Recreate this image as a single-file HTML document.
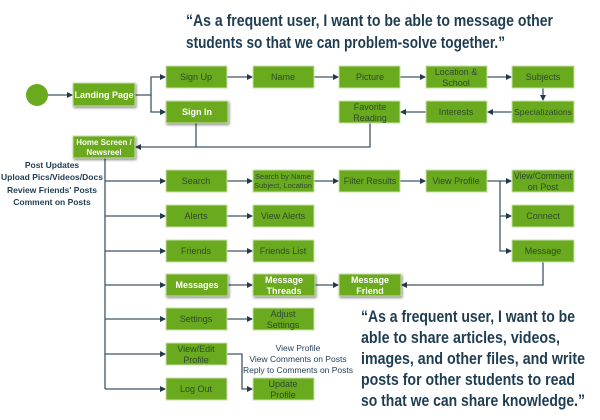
<!DOCTYPE html>
<html><head><meta charset="utf-8"><style>
html,body{margin:0;padding:0;background:#fff;width:600px;height:420px;overflow:hidden}
svg{display:block;font-family:"Liberation Sans",sans-serif}
.b{fill:#6aaa1e;stroke:#c8e0a8;stroke-width:1}
.t{fill:#2e4a2e;font-size:9px;text-anchor:middle}
.w{fill:#fff;font-size:9px;font-weight:bold;text-anchor:middle}
.l{stroke:#3e5666;stroke-width:1.3;fill:none}
.q{fill:#1e3d52;font-weight:bold;font-size:17px}
.s{fill:#1e3d52;font-size:8.5px;text-anchor:middle}
.sb{fill:#1e3d52;font-size:8.5px;font-weight:bold;text-anchor:middle}
</style></head><body>
<svg width="600" height="420" viewBox="0 0 600 420">
<defs>
<marker id="a" markerWidth="6" markerHeight="6" refX="5" refY="3" orient="auto" markerUnits="userSpaceOnUse"><path d="M0,0 L6,3 L0,6z" fill="#24394a"/></marker>
<filter id="sh" x="-20%" y="-20%" width="140%" height="160%"><feDropShadow dx="1" dy="1.5" stdDeviation="1.2" flood-color="#000" flood-opacity="0.45"/></filter>
</defs>
<text class="q" x="186" y="26" textLength="367" lengthAdjust="spacingAndGlyphs">“As a frequent user, I want to be able to message other</text>
<text class="q" x="186" y="48" textLength="319" lengthAdjust="spacingAndGlyphs">students so that we can problem-solve together.”</text>

<g class="l">
<path d="M47,95 H72" marker-end="url(#a)"/>
<path d="M135,95 H151 V77 H165" marker-end="url(#a)"/>
<path d="M151,95 V112 H165" marker-end="url(#a)"/>
<path d="M227,77 H252" marker-end="url(#a)"/>
<path d="M314,77 H338" marker-end="url(#a)"/>
<path d="M400,77 H425" marker-end="url(#a)"/>
<path d="M487,77 H511" marker-end="url(#a)"/>
<path d="M543,88 V100" marker-end="url(#a)"/>
<path d="M512,112 H488" marker-end="url(#a)"/>
<path d="M426,112 H401" marker-end="url(#a)"/>
<path d="M196,123 V147"/>
<path d="M370,123 V147 H136" marker-end="url(#a)"/>
<path d="M105,158 V389"/>
<path d="M105,181 H165" marker-end="url(#a)"/>
<path d="M105,216 H165" marker-end="url(#a)"/>
<path d="M105,251 H165" marker-end="url(#a)"/>
<path d="M105,285 H165" marker-end="url(#a)"/>
<path d="M105,319 H165" marker-end="url(#a)"/>
<path d="M105,354 H165" marker-end="url(#a)"/>
<path d="M105,389 H165" marker-end="url(#a)"/>
<path d="M227,181 H252" marker-end="url(#a)"/>
<path d="M314,181 H338" marker-end="url(#a)"/>
<path d="M400,181 H425" marker-end="url(#a)"/>
<path d="M487,181 H511" marker-end="url(#a)"/>
<path d="M500,181 V216 H511" marker-end="url(#a)"/>
<path d="M500,216 V251 H511" marker-end="url(#a)"/>
<path d="M227,216 H252" marker-end="url(#a)"/>
<path d="M227,251 H252" marker-end="url(#a)"/>
<path d="M227,285 H252" marker-end="url(#a)"/>
<path d="M314,285 H338" marker-end="url(#a)"/>
<path d="M543,262 V285 H402" marker-end="url(#a)"/>
<path d="M227,319 H252" marker-end="url(#a)"/>
<path d="M227,354 H242 V389 H252" marker-end="url(#a)"/>
</g>

<circle cx="37" cy="95" r="11" fill="#6aaa1e"/>

<g filter="url(#sh)">
<rect class="b" x="73" y="83" width="62" height="23"/>
<rect class="b" x="166" y="101" width="62" height="22"/>
<rect class="b" x="73" y="136" width="62" height="22"/>
<rect class="b" x="166" y="274" width="62" height="22"/>
<rect class="b" x="253" y="274" width="62" height="22"/>
<rect class="b" x="339" y="274" width="62" height="22"/>
</g>
<text class="w" x="104" y="98">Landing Page</text>
<text class="w" x="197" y="115">Sign In</text>
<text class="w" x="104" y="145" style="font-size:8px">Home Screen /</text>
<text class="w" x="104" y="155" style="font-size:8px">Newsreel</text>
<text class="w" x="197" y="288">Messages</text>
<text class="w" x="284" y="283">Message</text>
<text class="w" x="284" y="294">Threads</text>
<text class="w" x="370" y="283">Message</text>
<text class="w" x="370" y="294">Friend</text>

<g>
<rect class="b" x="166" y="66" width="61" height="22"/>
<rect class="b" x="253" y="66" width="61" height="22"/>
<rect class="b" x="339" y="66" width="61" height="22"/>
<rect class="b" x="426" y="66" width="61" height="22"/>
<rect class="b" x="512" y="66" width="62" height="22"/>
<rect class="b" x="512" y="101" width="62" height="22"/>
<rect class="b" x="426" y="101" width="61" height="22"/>
<rect class="b" x="339" y="101" width="61" height="22"/>
<rect class="b" x="166" y="170" width="61" height="22"/>
<rect class="b" x="253" y="170" width="61" height="22"/>
<rect class="b" x="339" y="170" width="61" height="22"/>
<rect class="b" x="426" y="170" width="61" height="22"/>
<rect class="b" x="512" y="170" width="62" height="22"/>
<rect class="b" x="512" y="205" width="62" height="22"/>
<rect class="b" x="512" y="240" width="62" height="22"/>
<rect class="b" x="166" y="205" width="61" height="22"/>
<rect class="b" x="253" y="205" width="61" height="22"/>
<rect class="b" x="166" y="240" width="61" height="22"/>
<rect class="b" x="253" y="240" width="61" height="22"/>
<rect class="b" x="166" y="308" width="61" height="22"/>
<rect class="b" x="253" y="308" width="61" height="22"/>
<rect class="b" x="166" y="343" width="61" height="22"/>
<rect class="b" x="166" y="378" width="61" height="22"/>
<rect class="b" x="253" y="378" width="61" height="22"/>
</g>
<text class="t" x="196" y="80">Sign Up</text>
<text class="t" x="283" y="80">Name</text>
<text class="t" x="370" y="80">Picture</text>
<text class="t" x="456" y="75">Location &amp;</text>
<text class="t" x="456" y="86">School</text>
<text class="t" x="543" y="80">Subjects</text>
<text class="t" x="543" y="115" style="font-size:8.5px" textLength="58" lengthAdjust="spacingAndGlyphs">Specializations</text>
<text class="t" x="456" y="115">Interests</text>
<text class="t" x="370" y="110">Favorite</text>
<text class="t" x="370" y="121">Reading</text>
<text class="t" x="196" y="184">Search</text>
<text class="t" x="283" y="179" style="font-size:7.5px" textLength="56" lengthAdjust="spacingAndGlyphs">Search by Name</text>
<text class="t" x="283" y="188" style="font-size:7.5px" textLength="58" lengthAdjust="spacingAndGlyphs">Subject, Location</text>
<text class="t" x="370" y="184">Filter Results</text>
<text class="t" x="456" y="184">View Profile</text>
<text class="t" x="543" y="179" textLength="58" lengthAdjust="spacingAndGlyphs">View/Comment</text>
<text class="t" x="543" y="190">on Post</text>
<text class="t" x="543" y="219">Connect</text>
<text class="t" x="543" y="254">Message</text>
<text class="t" x="196" y="219">Alerts</text>
<text class="t" x="283" y="219">View Alerts</text>
<text class="t" x="196" y="254">Friends</text>
<text class="t" x="283" y="254">Friends List</text>
<text class="t" x="196" y="322">Settings</text>
<text class="t" x="283" y="317">Adjust</text>
<text class="t" x="283" y="328">Settings</text>
<text class="t" x="196" y="352">View/Edit</text>
<text class="t" x="196" y="363">Profile</text>
<text class="t" x="196" y="392">Log Out</text>
<text class="t" x="283" y="387">Update</text>
<text class="t" x="283" y="398">Profile</text>

<text class="sb" x="52" y="168">Post Updates</text>
<text class="sb" x="52" y="180">Upload Pics/Videos/Docs</text>
<text class="sb" x="52" y="193">Review Friends' Posts</text>
<text class="sb" x="52" y="205">Comment on Posts</text>

<text class="s" x="298" y="351">View Profile</text>
<text class="s" x="298" y="362">View Comments on Posts</text>
<text class="s" x="298" y="373">Reply to Comments on Posts</text>

<text class="q" x="361" y="322" textLength="214" lengthAdjust="spacingAndGlyphs">“As a frequent user, I want to be</text>
<text class="q" x="361" y="343" textLength="199" lengthAdjust="spacingAndGlyphs">able to share articles, videos,</text>
<text class="q" x="361" y="364" textLength="224" lengthAdjust="spacingAndGlyphs">images, and other files, and write</text>
<text class="q" x="361" y="385" textLength="214" lengthAdjust="spacingAndGlyphs">posts for other students to read</text>
<text class="q" x="361" y="406" textLength="224" lengthAdjust="spacingAndGlyphs">so that we can share knowledge.”</text>
</svg>
</body></html>
